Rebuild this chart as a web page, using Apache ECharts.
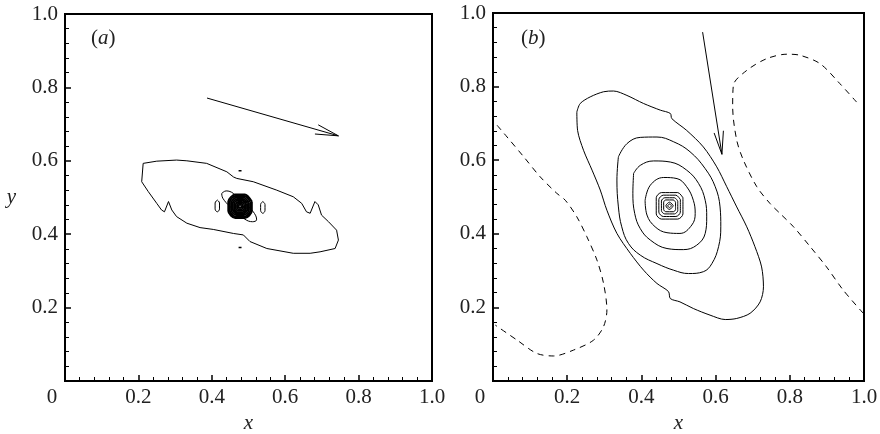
<!DOCTYPE html>
<html style="height: 100%">
<head>
<meta charset="utf-8" />
<title>contours</title>
<script type="text/javascript" src="https://cdn.jsdelivr.net/npm/echarts@6/dist/echarts.min.js"></script>
</head>
<body style="height: 100%; margin: 0; background: #fff;">
<div id="container" style="width: 880px; height: 434px"></div>
<script type="text/javascript">
// ---- data (x, y in axis units) ----
var xTicks = [0, 0.2, 0.4, 0.6, 0.8, 1.0];
var yTicks = [0.2, 0.4, 0.6, 0.8, 1.0];

// panel (a)
var outerA = [[0.213,0.593],[0.250,0.599],[0.304,0.602],[0.332,0.600],[0.386,0.593],[0.441,0.570],[0.459,0.556],
  [0.468,0.552],[0.513,0.543],[0.577,0.520],[0.622,0.502],[0.645,0.484],[0.658,0.461],[0.668,0.457],[0.681,0.489],
  [0.690,0.480],[0.699,0.452],[0.718,0.434],[0.740,0.411],[0.745,0.384],[0.736,0.361],[0.695,0.352],[0.668,0.348],
  [0.622,0.348],[0.550,0.361],[0.504,0.380],[0.486,0.398],[0.459,0.402],[0.404,0.413],[0.368,0.418],[0.332,0.430],
  [0.304,0.448],[0.291,0.466],[0.282,0.489],[0.271,0.461],[0.263,0.466],[0.250,0.484],[0.227,0.516],[0.209,0.543],
  [0.213,0.593]];
var loopA = [[0.427,0.511],[0.439,0.518],[0.459,0.511],[0.504,0.471],[0.520,0.450],[0.522,0.439],[0.511,0.434],
  [0.490,0.441],[0.450,0.475],[0.430,0.498],[0.427,0.511]];
var leftIslandA = [[0.415,0.493],[0.421,0.485],[0.421,0.469],[0.415,0.461],[0.409,0.469],[0.409,0.485],[0.415,0.493]];
var rightIslandA = [[0.539,0.489],[0.545,0.481],[0.545,0.465],[0.539,0.457],[0.533,0.465],[0.533,0.481],[0.539,0.489]];
var topDashA = [[0.473,0.573],[0.481,0.573]];
var bottomDashA = [[0.473,0.364],[0.481,0.364]];
var coreA = [
  [[0.509,0.489],[0.490,0.508],[0.464,0.508],[0.445,0.489],[0.445,0.463],[0.464,0.444],[0.490,0.444],[0.509,0.463],[0.509,0.489]],
  [[0.505,0.488],[0.489,0.504],[0.465,0.504],[0.449,0.488],[0.449,0.464],[0.465,0.448],[0.489,0.448],[0.505,0.464],[0.505,0.488]],
  [[0.501,0.486],[0.487,0.500],[0.467,0.500],[0.453,0.486],[0.453,0.466],[0.467,0.452],[0.487,0.452],[0.501,0.466],[0.501,0.486]],
  [[0.497,0.484],[0.485,0.496],[0.469,0.496],[0.457,0.484],[0.457,0.468],[0.469,0.456],[0.485,0.456],[0.497,0.468],[0.497,0.484]],
  [[0.493,0.483],[0.484,0.492],[0.470,0.492],[0.461,0.483],[0.461,0.469],[0.470,0.460],[0.484,0.460],[0.493,0.469],[0.493,0.483]],
  [[0.489,0.481],[0.482,0.488],[0.472,0.488],[0.465,0.481],[0.465,0.471],[0.472,0.464],[0.482,0.464],[0.489,0.471],[0.489,0.481]],
  [[0.485,0.479],[0.480,0.484],[0.474,0.484],[0.469,0.479],[0.469,0.473],[0.474,0.468],[0.480,0.468],[0.485,0.473],[0.485,0.479]],
  [[0.481,0.478],[0.479,0.480],[0.475,0.480],[0.473,0.478],[0.473,0.474],[0.475,0.472],[0.479,0.472],[0.481,0.474],[0.481,0.478]]
];
var arrowA = [[0.387,0.771],[0.745,0.668]];
var arrowHeadA = [[0.690,0.698],[0.745,0.668],[0.681,0.673]];

// panel (b)
var level1B = [[0.226,0.731],[0.235,0.754],[0.262,0.772],[0.298,0.786],[0.325,0.788],[0.361,0.776],[0.406,0.754],
  [0.451,0.736],[0.478,0.727],[0.482,0.713],[0.522,0.681],[0.567,0.636],[0.603,0.582],[0.630,0.528],[0.657,0.473],
  [0.684,0.419],[0.706,0.365],[0.724,0.310],[0.729,0.256],[0.720,0.215],[0.693,0.184],[0.657,0.170],[0.626,0.167],
  [0.585,0.179],[0.540,0.197],[0.504,0.215],[0.478,0.224],[0.473,0.243],[0.442,0.265],[0.406,0.301],[0.370,0.347],
  [0.334,0.401],[0.307,0.464],[0.289,0.519],[0.267,0.573],[0.244,0.627],[0.228,0.681],[0.226,0.731]];
var level2B = [[0.338,0.609],[0.361,0.645],[0.397,0.662],[0.442,0.663],[0.487,0.650],[0.531,0.623],[0.572,0.577],
  [0.599,0.528],[0.612,0.473],[0.614,0.419],[0.608,0.365],[0.590,0.319],[0.567,0.297],[0.527,0.292],[0.487,0.301],
  [0.442,0.319],[0.397,0.342],[0.365,0.374],[0.347,0.419],[0.338,0.473],[0.334,0.546],[0.338,0.609]];
var level3B = [[0.379,0.564],[0.397,0.586],[0.433,0.598],[0.478,0.595],[0.522,0.573],[0.554,0.537],[0.572,0.491],
  [0.576,0.446],[0.572,0.401],[0.549,0.369],[0.513,0.357],[0.469,0.360],[0.424,0.383],[0.397,0.414],[0.382,0.455],
  [0.377,0.510],[0.379,0.564]];
var level4B = [[0.410,0.491],[0.424,0.532],[0.460,0.553],[0.496,0.550],[0.522,0.528],[0.540,0.491],[0.545,0.455],
  [0.536,0.424],[0.504,0.401],[0.469,0.403],[0.437,0.419],[0.415,0.451],[0.410,0.491]];
var coreB = [
  [[0.512,0.498],[0.498,0.512],[0.454,0.512],[0.440,0.498],[0.440,0.454],[0.454,0.440],[0.498,0.440],[0.512,0.454],[0.512,0.498]],
  [[0.505,0.493],[0.493,0.505],[0.459,0.505],[0.447,0.493],[0.447,0.459],[0.459,0.447],[0.493,0.447],[0.505,0.459],[0.505,0.493]],
  [[0.498,0.489],[0.489,0.498],[0.463,0.498],[0.454,0.489],[0.454,0.463],[0.463,0.454],[0.489,0.454],[0.498,0.463],[0.498,0.489]],
  [[0.492,0.486],[0.486,0.492],[0.466,0.492],[0.460,0.486],[0.460,0.466],[0.466,0.460],[0.486,0.460],[0.492,0.466],[0.492,0.486]],
  [[0.486,0.476],[0.476,0.486],[0.466,0.476],[0.476,0.466],[0.486,0.476]],
  [[0.481,0.476],[0.476,0.481],[0.471,0.476],[0.476,0.471],[0.481,0.476]]
];
var negLeftB = [[0.011,0.695],[0.038,0.663],[0.083,0.609],[0.127,0.555],[0.172,0.510],[0.195,0.491],[0.226,0.446],
  [0.253,0.392],[0.280,0.329],[0.298,0.265],[0.307,0.193],[0.298,0.148],[0.271,0.111],[0.217,0.084],[0.163,0.068],
  [0.118,0.075],[0.065,0.111],[0.006,0.152]];
var negRightB = [[0.980,0.758],[0.935,0.808],[0.882,0.862],[0.828,0.885],[0.792,0.888],[0.738,0.876],[0.684,0.844],
  [0.648,0.804],[0.646,0.745],[0.657,0.654],[0.675,0.600],[0.711,0.528],[0.747,0.482],[0.774,0.455],[0.810,0.419],
  [0.855,0.365],[0.899,0.310],[0.944,0.247],[0.998,0.184]];
var arrowB = [[0.565,0.948],[0.617,0.616]];
var arrowHeadB = [[0.596,0.674],[0.617,0.616],[0.621,0.680]];

// ---- chart ----
var serif = 'Liberation Serif, Times New Roman, Times, serif';
var fs = 21;
var myChart = echarts.init(document.getElementById('container'));

function curve(data, panel, smooth, width, dashed) {
    return {
        type: 'line',
        xAxisIndex: panel,
        yAxisIndex: panel,
        data: data,
        showSymbol: false,
        symbol: 'none',
        smooth: smooth,
        silent: true,
        lineStyle: { color: '#000', width: width || 1, type: dashed ? [6, 5] : 'solid' }
    };
}

function xAxis(grid) {
    return {
        type: 'value', gridIndex: grid, min: 0, max: 1, interval: 0.2,
        name: 'x', nameLocation: 'middle', nameGap: 29,
        nameTextStyle: { fontFamily: serif, fontStyle: 'italic', fontSize: fs, color: '#222' },
        axisLine: { lineStyle: { color: '#000', width: 2 } },
        axisTick: { inside: true, length: 6, lineStyle: { color: '#000', width: 1.5 } },
        minorTick: { show: true, splitNumber: 5, length: 4, lineStyle: { color: '#000', width: 1 } },
        splitLine: { show: false },
        axisLabel: {
            margin: 6, fontFamily: serif, fontSize: fs, color: '#222',
            formatter: function (v) {
                return v === 0 ? '{z|0}' : v.toFixed(1);
            },
            rich: { z: { fontFamily: serif, fontSize: fs, color: '#222', padding: [0, 26, 0, 0] } }
        }
    };
}

function yAxis(grid, withName) {
    return {
        type: 'value', gridIndex: grid, min: 0, max: 1, interval: 0.2,
        name: withName ? 'y' : '', nameLocation: 'middle', nameRotate: 0, nameGap: 49,
        nameTextStyle: { fontFamily: serif, fontStyle: 'italic', fontSize: fs, color: '#222' },
        axisLine: { lineStyle: { color: '#000', width: 2 } },
        axisTick: { inside: true, length: 6, lineStyle: { color: '#000', width: 1.5 } },
        minorTick: { show: true, splitNumber: 5, length: 4, lineStyle: { color: '#000', width: 1 } },
        splitLine: { show: false },
        axisLabel: {
            margin: 7, fontFamily: serif, fontSize: fs, color: '#222',
            formatter: function (v) {
                return yTicks.indexOf(+v.toFixed(1)) >= 0 ? v.toFixed(1) : '';
            }
        }
    };
}

var series = [
    curve(outerA, 0, false),
    curve(loopA, 0, 0.4),
    curve(leftIslandA, 0, 0.4),
    curve(rightIslandA, 0, 0.4),
    curve(topDashA, 0, false, 1.5),
    curve(bottomDashA, 0, false, 1.5),
    curve(arrowA, 0, false),
    curve(arrowHeadA, 0, false),
    curve(level1B, 1, 0.3),
    curve(level2B, 1, 0.4),
    curve(level3B, 1, 0.4),
    curve(level4B, 1, 0.4),
    curve(negLeftB, 1, 0.3, 1, true),
    curve(negRightB, 1, 0.3, 1, true),
    curve(arrowB, 1, false),
    curve(arrowHeadB, 1, false)
];
coreA.forEach(function (ring) { series.push(curve(ring, 0, 0.3, 2)); });
coreB.forEach(function (ring) { series.push(curve(ring, 1, 0.3, 1)); });

var option = {
    animation: false,
    backgroundColor: '#fff',
    title: [
        { text: '({i|a})', left: 86, top: 23, textStyle: { fontFamily: serif, fontSize: fs, fontWeight: 'normal', color: '#222',
            rich: { i: { fontFamily: serif, fontStyle: 'italic', fontSize: fs, color: '#222' } } } },
        { text: '({i|b})', left: 516, top: 23, textStyle: { fontFamily: serif, fontSize: fs, fontWeight: 'normal', color: '#222',
            rich: { i: { fontFamily: serif, fontStyle: 'italic', fontSize: fs, color: '#222' } } } }
    ],
    grid: [
        { left: 65, top: 14, width: 367, height: 367, show: true, borderColor: '#000', borderWidth: 2, outerBoundsMode: 'none' },
        { left: 493, top: 13, width: 371, height: 368, show: true, borderColor: '#000', borderWidth: 2, outerBoundsMode: 'none' }
    ],
    xAxis: [xAxis(0), xAxis(1)],
    yAxis: [yAxis(0, true), yAxis(1, false)],
    series: series
};
myChart.setOption(option);
</script>
</body>
</html>
